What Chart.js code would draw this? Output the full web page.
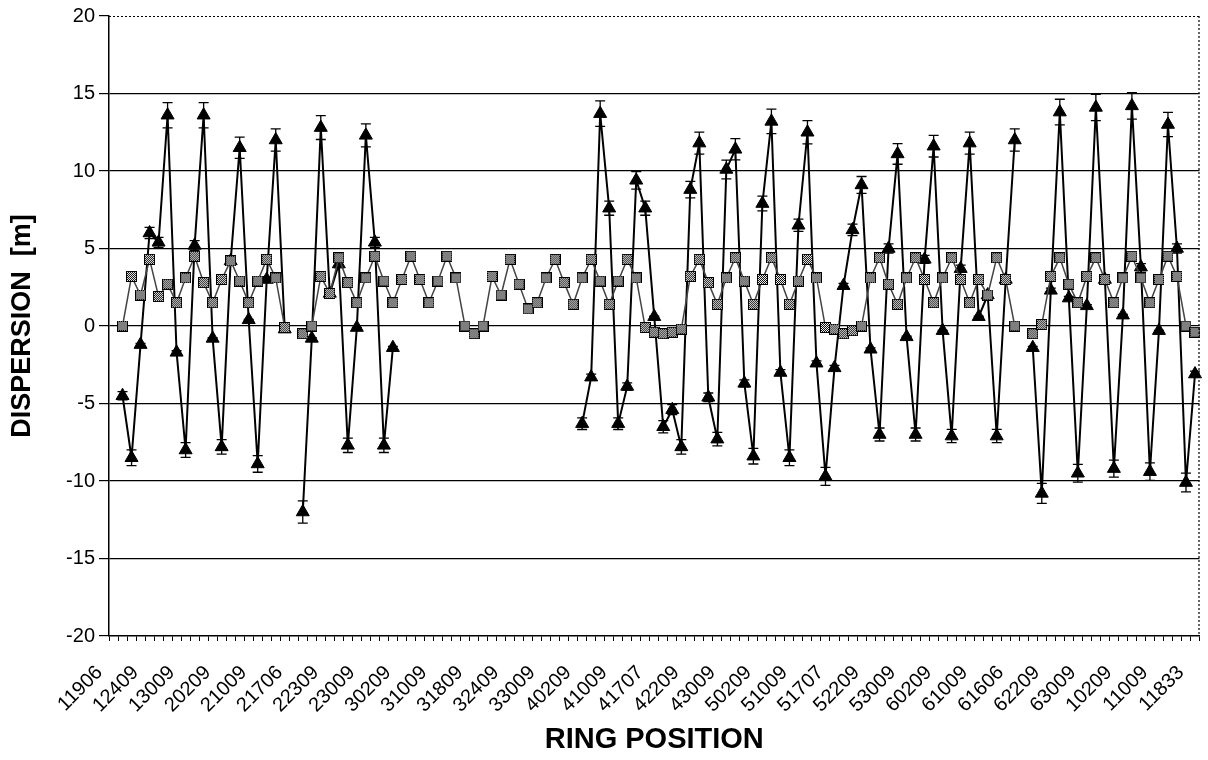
<!DOCTYPE html>
<html><head><meta charset="utf-8">
<script src="https://cdn.jsdelivr.net/npm/chart.js@4.4.1/dist/chart.umd.min.js"></script>
<style>html,body{margin:0;padding:0;background:#fff}#wrap{width:1208px;height:760px;position:relative}</style>
</head><body><div id="wrap"><canvas id="c" width="1208" height="760"></canvas></div>
<script>
// Ring position labels (one shown every 4 categories)
const TICK_LABELS = ['11906','12409','13009','20209','21009','21706','22309','23009','30209','31009','31809','32409','33009','40209','41009','41707','42209','43009','50209','51009','51707','52209','53009','60209','61009','61606','62209','63009','10209','11009','11833'];
const LABEL_STEP = 4;

// Series 1: triangles (with error bars)
const TRIANGLE_VALUES = [
 null,-4.5,-8.5,-1.2,6.0,5.4,13.6,-1.7,-8.0,5.2,
 13.6,-0.8,-7.8,4.2,11.5,0.4,-8.9,3.0,12.0,-0.2,
 null,-12.0,-0.8,12.8,2.1,4.0,-7.7,-0.1,12.3,5.4,
 -7.7,-1.4,null,null,null,null,null,null,null,null,
 null,null,null,null,null,null,null,null,null,null,
 null,null,-6.3,-3.3,13.7,7.6,-6.3,-3.9,9.4,7.6,
 0.6,-6.5,-5.4,-7.8,8.8,11.8,-4.6,-7.3,10.1,11.4,
 -3.7,-8.4,7.9,13.2,-3.0,-8.5,6.5,12.5,-2.4,-9.7,
 -2.7,2.6,6.2,9.1,-1.5,-7.0,5.0,11.1,-0.7,-7.0,
 4.3,11.6,-0.3,-7.1,3.7,11.8,0.6,2.0,-7.1,3.0,
 12.0,null,-1.4,-10.8,2.3,13.8,1.8,-9.5,1.3,14.1,
 3.0,-9.2,0.7,14.2,3.8,-9.4,-0.3,13.0,5.0,-10.1,
 -3.1
];

// Series 2: hatched squares
const SQUARE_VALUES = [
 null,0.0,3.2,2.0,4.3,1.9,2.7,1.5,3.1,4.5,
 2.8,1.5,3.0,4.2,2.9,1.5,2.9,4.3,3.1,-0.1,
 null,-0.5,0.0,3.2,2.1,4.4,2.8,1.5,3.1,4.5,
 2.9,1.5,3.0,4.5,3.0,1.5,2.9,4.5,3.1,0.0,
 -0.5,0.0,3.2,2.0,4.3,2.7,1.1,1.5,3.1,4.3,
 2.8,1.4,3.1,4.3,2.9,1.4,2.9,4.3,3.1,-0.1,
 -0.4,-0.5,-0.4,-0.2,3.2,4.3,2.8,1.4,3.1,4.4,
 2.9,1.4,3.0,4.4,3.0,1.4,2.9,4.3,3.1,-0.1,
 -0.2,-0.5,-0.3,0.0,3.1,4.4,2.7,1.4,3.1,4.4,
 3.0,1.5,3.1,4.4,3.0,1.5,3.0,2.0,4.4,3.0,
 0.0,null,-0.5,0.1,3.2,4.4,2.7,1.5,3.2,4.4,
 3.0,1.5,3.1,4.5,3.1,1.5,3.0,4.5,3.2,0.0,
 -0.4
];

const Y_TICKS = [-20,-15,-10,-5,0,5,10,15,20];
const ERROR_PERCENT = 6;

const categories = TRIANGLE_VALUES.map((_, i) => (i % LABEL_STEP === 0 ? TICK_LABELS[i / LABEL_STEP] : ''));

function makeHatch(size) {
  const c = document.createElement('canvas');
  c.width = c.height = size;
  const g = c.getContext('2d');
  g.fillStyle = '#000';
  g.fillRect(0, 0, size, size);
  g.fillStyle = '#fff';
  for (let y = 1; y < size - 1; y++) for (let x = 1; x < size - 1; x++) {
    if ((x + y) % 2 === 0) g.fillRect(x, y, 1, 1);
  }
  return c;
}
const hatch = makeHatch(11);

const FONT = '"Liberation Sans", Arial, Helvetica, sans-serif';

const errorBars = {
  id: 'errorBars',
  afterDatasetDraw(chart, args) {
    if (args.index !== 0) return;
    const meta = args.meta;
    const ys = chart.scales.y;
    const ctx = chart.ctx;
    ctx.save();
    ctx.strokeStyle = '#000';
    ctx.lineWidth = 1.3;
    meta.data.forEach((pt, i) => {
      const v = TRIANGLE_VALUES[i];
      if (v === null) return;
      const e = Math.abs(v) * ERROR_PERCENT / 100;
      const x = pt.x;
      const y1 = ys.getPixelForValue(v + e);
      const y2 = ys.getPixelForValue(v - e);
      ctx.beginPath();
      ctx.moveTo(x, y1); ctx.lineTo(x, y2);
      ctx.moveTo(x - 5, y1); ctx.lineTo(x + 5, y1);
      ctx.moveTo(x - 5, y2); ctx.lineTo(x + 5, y2);
      ctx.stroke();
    });
    ctx.restore();
  }
};

const frame = {
  id: 'frame',
  afterDraw(chart) {
    const a = chart.chartArea;
    const ctx = chart.ctx;
    ctx.save();
    ctx.strokeStyle = '#000';
    ctx.lineWidth = 1.2;
    ctx.setLineDash([2, 2]);
    ctx.beginPath();
    ctx.moveTo(a.left, a.top + 0.5); ctx.lineTo(a.right, a.top + 0.5);
    ctx.moveTo(a.right - 0.5, a.top); ctx.lineTo(a.right - 0.5, a.bottom);
    ctx.stroke();
    ctx.restore();
  }
};

new Chart(document.getElementById('c'), {
  type: 'line',
  data: {
    labels: categories,
    datasets: [
      {
        label: 'triangles',
        data: TRIANGLE_VALUES,
        borderColor: '#000',
        backgroundColor: '#000',
        borderWidth: 2,
        pointStyle: 'triangle',
        pointRadius: 7.5,
        pointBorderWidth: 1,
        pointBackgroundColor: '#000',
        pointBorderColor: '#000',
        spanGaps: false,
        tension: 0,
        order: 1
      },
      {
        label: 'squares',
        data: SQUARE_VALUES,
        borderColor: '#444',
        borderWidth: 1.5,
        pointStyle: hatch,
        pointRadius: 5.5,
        spanGaps: false,
        tension: 0,
        order: 0
      }
    ]
  },
  options: {
    responsive: false,
    animation: false,
    devicePixelRatio: 1,
    layout: { padding: { top: 16, right: 0, left: 0, bottom: 0 } },
    plugins: { legend: { display: false }, tooltip: { enabled: false } },
    scales: {
      x: {
        type: 'category',
        offset: true,
        afterFit(s) { s.height = 124; s.paddingRight = 0; s.paddingLeft = 0; },
        ticks: {
          autoSkip: false, maxRotation: 45, minRotation: 45,
          color: '#000', padding: 20, labelOffset: -14,
          font: { family: FONT, size: 20 }
        },
        grid: {
          display: true, drawOnChartArea: false, drawTicks: true,
          tickLength: 5, color: '#000', offset: true, lineWidth: 1
        },
        border: { display: true, color: '#000', width: 1.5 },
        title: {
          display: true, text: 'RING POSITION', color: '#000',
          font: { family: FONT, size: 29, weight: 'bold' },
          padding: { top: 0, bottom: 3 }
        }
      },
      y: {
        min: -20, max: 20,
        afterFit(s) { s.width = 109; },
        afterBuildTicks(s) { s.ticks = Y_TICKS.map(v => ({ value: v })); },
        ticks: { color: '#000', padding: 4, font: { family: FONT, size: 20 } },
        grid: {
          color: (c) => (c.tick && (c.tick.value === 20 || c.tick.value === -20) ? 'rgba(0,0,0,0)' : '#000'),
          tickColor: '#000', tickLength: 10, lineWidth: 1.2
        },
        border: { display: true, color: '#000', width: 1.5 },
        title: {
          display: true, text: 'DISPERSION  [m]', color: '#000',
          font: { family: FONT, size: 27, weight: 'bold' },
          padding: { top: 6, bottom: 0 }
        }
      }
    }
  },
  plugins: [errorBars, frame]
});
</script>
</body></html>
